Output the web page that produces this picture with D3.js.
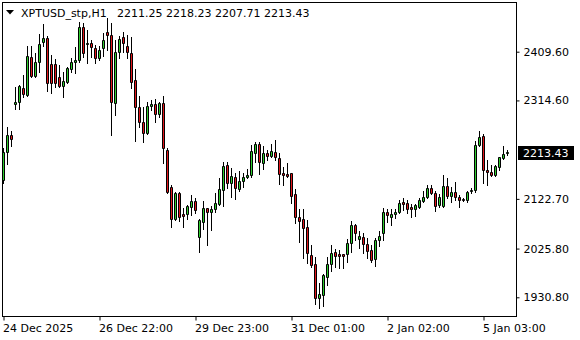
<!doctype html>
<html>
<head>
<meta charset="utf-8">
<script src="https://cdn.jsdelivr.net/npm/d3@7"></script>
<style>
  body { margin: 0; background: #fff; }
  svg { display: block; font-family: "DejaVu Sans", Verdana, sans-serif; font-size: 11px; }
</style>
</head>
<body>
<svg width="580" height="340"></svg>
<script>
// XPTUSD H1 bars, oldest first
var symbol = "XPTUSD_stp,H1";

var open = [
  2159.5, 2214.7, 2246.6, 2307.1, 2311.0, 2338.3, 2325.2, 2399.9, 2362.8, 2390.1, 2428.5, 2436.3, 2385.6, 2385.6, 2360.9, 2342.7,
  2351.1, 2375.3, 2390.1, 2393.4, 2457.2, 2424.0, 2426.0, 2417.4, 2396.7, 2416.2, 2447.4, 2442.2, 2309.0, 2408.4, 2438.9, 2420.7,
  2406.5, 2354.4, 2301.2, 2273.2, 2250.5, 2304.3, 2307.1, 2287.6, 2309.0, 2218.0, 2146.4, 2082.9, 2134.7, 2093.2, 2092.6, 2107.4,
  2118.6, 2049.0, 2078.2, 2104.3, 2097.7, 2102.4, 2112.7, 2140.0, 2188.7, 2153.1, 2164.8, 2141.4, 2158.1, 2165.9, 2169.2, 2212.7,
  2229.1, 2193.2, 2211.5, 2206.9, 2213.5, 2201.8, 2172.6, 2171.2, 2172.6, 2132.2, 2086.8, 2082.9, 2067.3, 2013.3, 1995.2, 1928.9,
  1935.3, 1969.8, 1995.2, 2018.5, 2014.6, 2014.6, 2015.2, 2036.1, 2071.8, 2044.5, 2047.8, 2034.7, 2023.0, 2004.9, 2042.5, 2055.6,
  2096.5, 2087.9, 2093.2, 2096.5, 2117.2, 2114.1, 2107.4, 2102.4, 2107.4, 2119.1, 2125.8, 2143.3, 2133.6, 2110.8, 2109.4, 2148.4,
  2128.3, 2135.5, 2126.9, 2122.5, 2120.5, 2138.0, 2140.0, 2227.7, 2245.3, 2179.0, 2175.7, 2169.2, 2185.4, 2203.0, 2211.25
];
var high = [
  2221.3, 2262.2, 2255.6, 2340.2, 2344.7, 2364.2, 2420.7, 2420.7, 2406.5, 2444.1, 2463.6, 2440.2, 2403.2, 2395.4, 2383.7, 2370.0,
  2380.4, 2396.7, 2419.4, 2468.1, 2465.0, 2451.9, 2432.4, 2422.7, 2420.7, 2445.5, 2474.7, 2466.2, 2432.4, 2440.2, 2448.6, 2442.2,
  2437.7, 2375.3, 2323.3, 2302.4, 2312.1, 2315.5, 2316.8, 2312.1, 2323.3, 2221.3, 2149.7, 2136.7, 2136.7, 2104.3, 2110.8, 2130.2,
  2123.8, 2082.9, 2118.6, 2105.5, 2108.8, 2134.7, 2164.0, 2195.2, 2195.2, 2183.5, 2172.6, 2177.0, 2172.6, 2180.4, 2227.7, 2234.2,
  2234.2, 2225.8, 2218.0, 2229.7, 2237.5, 2211.5, 2185.4, 2192.1, 2173.7, 2141.4, 2102.4, 2102.4, 2081.5, 2032.8, 2010.0, 1958.1,
  1976.2, 2010.0, 2032.8, 2024.4, 2023.0, 2015.2, 2043.9, 2079.6, 2073.1, 2060.1, 2056.8, 2045.8, 2032.8, 2045.8, 2060.1, 2104.3,
  2103.0, 2103.0, 2103.0, 2120.5, 2125.0, 2120.5, 2112.1, 2112.1, 2123.8, 2138.0, 2149.7, 2149.7, 2138.6, 2132.2, 2169.2, 2162.8,
  2146.4, 2156.2, 2130.2, 2124.4, 2138.6, 2144.5, 2236.1, 2255.6, 2249.2, 2198.5, 2188.7, 2188.7, 2204.9, 2225.8, 2218.23
];
var low = [
  2154.2, 2190.7, 2225.8, 2297.3, 2297.3, 2321.9, 2323.3, 2360.9, 2360.9, 2370.6, 2420.7, 2333.0, 2328.5, 2340.2, 2340.8, 2320.7,
  2348.0, 2370.6, 2367.5, 2390.1, 2399.9, 2387.0, 2399.9, 2387.0, 2393.4, 2401.2, 2412.9, 2247.2, 2286.2, 2396.7, 2409.6, 2396.7,
  2338.8, 2236.1, 2263.4, 2234.2, 2249.2, 2296.0, 2273.2, 2282.9, 2193.2, 2134.7, 2067.3, 2081.5, 2080.2, 2068.5, 2082.9, 2091.3,
  2095.8, 2019.7, 2063.4, 2032.8, 2062.0, 2097.7, 2110.8, 2108.8, 2143.3, 2125.8, 2121.9, 2138.6, 2145.3, 2162.8, 2165.9, 2195.2,
  2170.6, 2180.4, 2198.5, 2204.9, 2198.5, 2151.7, 2149.7, 2165.9, 2115.2, 2075.1, 2039.2, 2006.8, 1998.3, 1989.3, 1917.8, 1909.4,
  1913.9, 1954.8, 1982.7, 1990.5, 1987.4, 1987.4, 2000.2, 2019.7, 2042.5, 2027.5, 2016.6, 2006.8, 2000.2, 1991.8, 2030.8, 2042.5,
  2078.2, 2071.8, 2084.8, 2094.6, 2101.0, 2095.8, 2086.8, 2089.3, 2105.5, 2117.2, 2123.8, 2132.2, 2099.1, 2107.4, 2107.4, 2123.8,
  2117.2, 2120.5, 2107.4, 2118.6, 2117.2, 2133.6, 2136.7, 2225.8, 2153.1, 2149.7, 2167.9, 2167.9, 2179.0, 2200.4, 2207.71
];
var close = [
  2214.7, 2246.6, 2238.8, 2311.0, 2342.7, 2326.6, 2401.2, 2362.8, 2390.1, 2424.6, 2436.3, 2348.0, 2348.0, 2348.0, 2342.7, 2352.5,
  2377.2, 2390.1, 2393.4, 2457.2, 2406.5, 2426.0, 2419.4, 2396.7, 2412.9, 2432.4, 2442.2, 2312.1, 2408.4, 2433.8, 2426.0, 2409.6,
  2351.1, 2301.2, 2273.2, 2250.5, 2304.3, 2307.1, 2287.6, 2309.0, 2221.3, 2136.7, 2082.9, 2134.7, 2087.9, 2089.9, 2108.8, 2118.6,
  2101.0, 2081.5, 2104.3, 2097.7, 2103.0, 2114.1, 2141.4, 2186.8, 2153.1, 2167.3, 2143.3, 2158.1, 2164.8, 2169.2, 2216.0, 2229.1,
  2195.2, 2211.5, 2206.9, 2216.0, 2204.9, 2170.6, 2169.8, 2167.9, 2128.9, 2086.8, 2080.2, 2066.5, 2016.6, 1993.8, 1928.9, 1937.3,
  1974.3, 1995.7, 2016.6, 2011.9, 2011.9, 2011.9, 2036.1, 2071.8, 2055.6, 2050.3, 2034.7, 2021.7, 2003.5, 2042.5, 2050.3, 2097.7,
  2091.3, 2093.2, 2097.7, 2115.2, 2112.1, 2103.0, 2103.0, 2110.8, 2120.5, 2126.9, 2143.3, 2134.7, 2109.4, 2126.9, 2148.4, 2128.9,
  2135.5, 2125.8, 2120.5, 2121.1, 2136.7, 2140.0, 2227.7, 2242.7, 2179.0, 2174.5, 2169.2, 2186.8, 2203.7, 2210.2, 2213.43
];

// time axis labels sit on these bar numbers
var timeTickBars = [0, 24, 48, 72, 96, 120];
var timeTickLabels = ["24 Dec 2025", "26 Dec 22:00", "29 Dec 23:00", "31 Dec 01:00", "2 Jan 02:00", "5 Jan 03:00"];
var priceTicks = [2409.60, 2314.60, 2122.70, 2025.80, 1930.80];

var bullColor = "#2ecc2e", bearColor = "#e0161b";

var svg = d3.select("svg");
var frame = { left: 2.5, top: 2.5, right: 516.5, bottom: 316.5 };

var bars = open.map(function (o, i) {
  return { i: i, o: o, h: high[i], l: low[i], c: close[i] };
});

var x = d3.scaleLinear().domain([0, bars.length - 1]).range([3.5, 507.5]);
var y = d3.scaleLinear().domain([1930.8, 2409.6]).range([297.3, 51.7]);

function snap(v) { return Math.round(v) + 0.5; }

svg.append("rect")
  .attr("x", frame.left).attr("y", frame.top)
  .attr("width", frame.right - frame.left).attr("height", frame.bottom - frame.top)
  .attr("fill", "none").attr("stroke", "#000");

var g = svg.append("g");

// wicks
g.selectAll(".wick")
  .data(bars)
  .enter().append("line")
  .attr("class", "wick")
  .attr("x1", function (d) { return x(d.i); })
  .attr("x2", function (d) { return x(d.i); })
  .attr("y1", function (d) { return Math.round(y(d.h)); })
  .attr("y2", function (d) { return Math.round(y(d.l)) + 1; })
  .attr("stroke", "#000");

// bodies (path so that flat bars still show a dash)
g.selectAll(".body")
  .data(bars)
  .enter().append("path")
  .attr("class", "body")
  .attr("d", function (d) {
    var cx = x(d.i);
    var t = snap(y(Math.max(d.o, d.c))), b = snap(y(Math.min(d.o, d.c)));
    return "M" + (cx - 1) + "," + t + "H" + (cx + 1) + "V" + b + "H" + (cx - 1) + "Z";
  })
  .attr("fill", function (d) { return d.c >= d.o ? bullColor : bearColor; })
  .attr("stroke", "#000");

// price scale on the right
var yAxis = svg.append("g")
  .attr("transform", "translate(516.5,0)")
  .call(d3.axisRight(y).tickValues(priceTicks).tickFormat(d3.format(".2f")).tickSize(3).tickPadding(4));
yAxis.select(".domain").remove();
yAxis.selectAll("text").attr("font-family", "DejaVu Sans").attr("font-size", 11).attr("fill", "#000");

// time scale along the bottom
var xAxis = svg.append("g")
  .attr("transform", "translate(0,316.5)")
  .call(d3.axisBottom(x).tickValues(timeTickBars)
    .tickFormat(function (d, k) { return timeTickLabels[k]; }).tickSize(4).tickPadding(4));
xAxis.select(".domain").remove();
xAxis.selectAll("text")
  .attr("text-anchor", "start")
  .attr("dx", -1)
  .attr("font-family", "DejaVu Sans").attr("font-size", 11).attr("fill", "#000");

// current price box
var last = bars[bars.length - 1];
var ly = y(last.c);
svg.append("rect")
  .attr("x", 518).attr("y", Math.round(ly) - 6)
  .attr("width", 56).attr("height", 14)
  .attr("fill", "#000");
svg.append("text")
  .attr("x", 523).attr("y", Math.round(ly) + 5)
  .attr("fill", "#fff")
  .text(d3.format(".2f")(last.c));

// header
svg.append("path")
  .attr("d", "M6,10H14L10,14.5Z")
  .attr("fill", "#000");
svg.append("text")
  .attr("x", 21).attr("y", 17)
  .attr("fill", "#000")
  .text(symbol);
svg.append("text")
  .attr("x", 117).attr("y", 17)
  .attr("fill", "#000")
  .text([last.o, last.h, last.l, last.c].map(d3.format(".2f")).join(" "));
</script>
</body>
</html>
